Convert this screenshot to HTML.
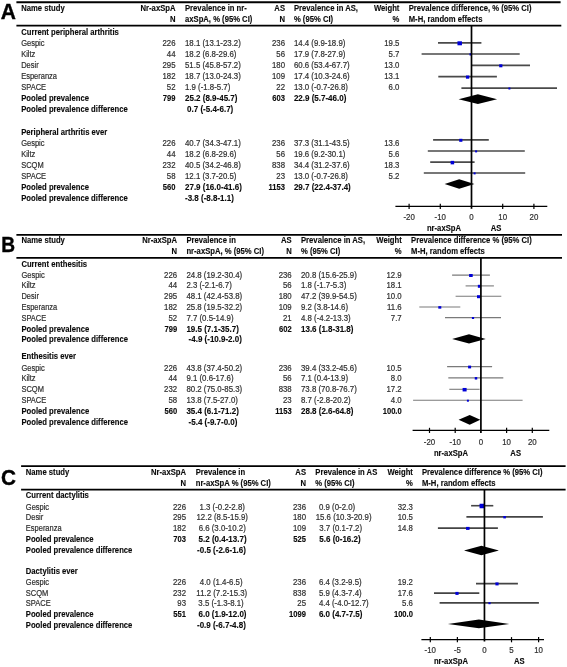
<!DOCTYPE html>
<html><head><meta charset="utf-8"><style>
html,body{margin:0;padding:0;background:#fff;}
svg{display:block;will-change:transform;}
text{font-family:"Liberation Sans",sans-serif;font-size:7.5px;}
.r{fill:#303030;stroke:#303030;stroke-width:0.2px;}
.b{fill:#0a0a0a;stroke:#0a0a0a;stroke-width:0.12px;font-weight:bold;font-size:7.6px;}
.L{fill:#000;stroke:#000;stroke-width:0.4px;font-weight:bold;font-size:21.8px;}
</style></head><body>
<svg width="567" height="667" viewBox="0 0 567 667">
<rect width="567" height="667" fill="#fff"/>
<text transform="translate(0.80,19.40) scale(0.930,1)" class="L" style="font-size:22.6px">A</text>
<line x1="16.40" y1="2.25" x2="560.60" y2="2.25" stroke="#000" stroke-width="1.8"/>
<line x1="16.40" y1="25.70" x2="561.30" y2="25.70" stroke="#000" stroke-width="1.8"/>
<text transform="translate(21.20,11.40) scale(0.9253,1)" class="b" style="font-size:8.3px">Name study</text>
<text transform="translate(175.50,11.40) scale(0.9253,1)" class="b" text-anchor="end" style="font-size:8.3px">Nr-axSpA</text>
<text transform="translate(175.50,22.00) scale(0.9253,1)" class="b" text-anchor="end" style="font-size:8.3px">N</text>
<text transform="translate(185.00,11.40) scale(0.9253,1)" class="b" style="font-size:8.3px">Prevalence in nr-</text>
<text transform="translate(185.00,22.00) scale(0.9253,1)" class="b" style="font-size:8.3px">axSpA, % (95% CI)</text>
<text transform="translate(285.00,11.40) scale(0.9253,1)" class="b" text-anchor="end" style="font-size:8.3px">AS</text>
<text transform="translate(285.00,22.00) scale(0.9253,1)" class="b" text-anchor="end" style="font-size:8.3px">N</text>
<text transform="translate(293.90,11.40) scale(0.9253,1)" class="b" style="font-size:8.3px">Prevalence in AS,</text>
<text transform="translate(293.90,22.00) scale(0.9253,1)" class="b" style="font-size:8.3px">% (95% CI)</text>
<text transform="translate(399.40,11.40) scale(0.9253,1)" class="b" text-anchor="end" style="font-size:8.3px">Weight</text>
<text transform="translate(399.40,22.00) scale(0.9253,1)" class="b" text-anchor="end" style="font-size:8.3px">%</text>
<text transform="translate(408.70,11.40) scale(0.9253,1)" class="b" style="font-size:8.3px">Prevalence difference, % (95% CI)</text>
<text transform="translate(408.70,22.00) scale(0.9253,1)" class="b" style="font-size:8.3px">M-H, random effects</text>
<text transform="translate(21.20,35.00) scale(0.9253,1)" class="b" style="font-size:8.3px">Current peripheral arthritis</text>
<text transform="translate(21.20,46.20) scale(0.9091,1)" class="r" style="font-size:8.25px">Gespic</text>
<text transform="translate(175.50,46.20) scale(0.9455,1)" class="r" text-anchor="end" style="font-size:8.25px">226</text>
<text transform="translate(185.00,46.20) scale(0.9515,1)" class="r" style="font-size:8.25px">18.1 (13.1-23.2)</text>
<text transform="translate(285.00,46.20) scale(0.9455,1)" class="r" text-anchor="end" style="font-size:8.25px">236</text>
<text transform="translate(293.90,46.20) scale(0.9515,1)" class="r" style="font-size:8.25px">14.4 (9.9-18.9)</text>
<text transform="translate(399.40,46.20) scale(0.9455,1)" class="r" text-anchor="end" style="font-size:8.25px">19.5</text>
<text transform="translate(21.20,56.90) scale(0.9091,1)" class="r" style="font-size:8.25px">Kiltz</text>
<text transform="translate(175.50,56.90) scale(0.9455,1)" class="r" text-anchor="end" style="font-size:8.25px">44</text>
<text transform="translate(185.00,56.90) scale(0.9515,1)" class="r" style="font-size:8.25px">18.2 (6.8-29.6)</text>
<text transform="translate(285.00,56.90) scale(0.9455,1)" class="r" text-anchor="end" style="font-size:8.25px">56</text>
<text transform="translate(293.90,56.90) scale(0.9515,1)" class="r" style="font-size:8.25px">17.9 (7.8-27.9)</text>
<text transform="translate(399.40,56.90) scale(0.9455,1)" class="r" text-anchor="end" style="font-size:8.25px">5.7</text>
<text transform="translate(21.20,68.30) scale(0.9091,1)" class="r" style="font-size:8.25px">Desir</text>
<text transform="translate(175.50,68.30) scale(0.9455,1)" class="r" text-anchor="end" style="font-size:8.25px">295</text>
<text transform="translate(185.00,68.30) scale(0.9515,1)" class="r" style="font-size:8.25px">51.5 (45.8-57.2)</text>
<text transform="translate(285.00,68.30) scale(0.9455,1)" class="r" text-anchor="end" style="font-size:8.25px">180</text>
<text transform="translate(293.90,68.30) scale(0.9515,1)" class="r" style="font-size:8.25px">60.6 (53.4-67.7)</text>
<text transform="translate(399.40,68.30) scale(0.9455,1)" class="r" text-anchor="end" style="font-size:8.25px">13.0</text>
<text transform="translate(21.20,78.70) scale(0.9091,1)" class="r" style="font-size:8.25px">Esperanza</text>
<text transform="translate(175.50,78.70) scale(0.9455,1)" class="r" text-anchor="end" style="font-size:8.25px">182</text>
<text transform="translate(185.00,78.70) scale(0.9515,1)" class="r" style="font-size:8.25px">18.7 (13.0-24.3)</text>
<text transform="translate(285.00,78.70) scale(0.9455,1)" class="r" text-anchor="end" style="font-size:8.25px">109</text>
<text transform="translate(293.90,78.70) scale(0.9515,1)" class="r" style="font-size:8.25px">17.4 (10.3-24.6)</text>
<text transform="translate(399.40,78.70) scale(0.9455,1)" class="r" text-anchor="end" style="font-size:8.25px">13.1</text>
<text transform="translate(21.20,89.70) scale(0.9091,1)" class="r" style="font-size:8.25px">SPACE</text>
<text transform="translate(175.50,89.70) scale(0.9455,1)" class="r" text-anchor="end" style="font-size:8.25px">52</text>
<text transform="translate(185.00,89.70) scale(0.9515,1)" class="r" style="font-size:8.25px">1.9 (-1.8-5.7)</text>
<text transform="translate(285.00,89.70) scale(0.9455,1)" class="r" text-anchor="end" style="font-size:8.25px">22</text>
<text transform="translate(293.90,89.70) scale(0.9515,1)" class="r" style="font-size:8.25px">13.0 (-0.7-26.8)</text>
<text transform="translate(399.40,89.70) scale(0.9455,1)" class="r" text-anchor="end" style="font-size:8.25px">6.0</text>
<text transform="translate(21.20,100.70) scale(0.9253,1)" class="b" style="font-size:8.3px">Pooled prevalence</text>
<text transform="translate(175.50,100.70) scale(0.9157,1)" class="b" text-anchor="end" style="font-size:8.3px">799</text>
<text transform="translate(185.00,100.70) scale(0.9639,1)" class="b" style="font-size:8.3px">25.2 (8.9-45.7)</text>
<text transform="translate(285.00,100.70) scale(0.9157,1)" class="b" text-anchor="end" style="font-size:8.3px">603</text>
<text transform="translate(293.90,100.70) scale(0.9639,1)" class="b" style="font-size:8.3px">22.9 (5.7-46.0)</text>
<text transform="translate(21.20,112.20) scale(0.9253,1)" class="b" style="font-size:8.3px">Pooled prevalence difference</text>
<text transform="translate(187.10,112.20) scale(0.9639,1)" class="b" style="font-size:8.3px">0.7 (-5.4-6.7)</text>
<text transform="translate(21.20,134.80) scale(0.9253,1)" class="b" style="font-size:8.3px">Peripheral arthritis ever</text>
<text transform="translate(21.20,146.00) scale(0.9091,1)" class="r" style="font-size:8.25px">Gespic</text>
<text transform="translate(175.50,146.00) scale(0.9455,1)" class="r" text-anchor="end" style="font-size:8.25px">226</text>
<text transform="translate(185.00,146.00) scale(0.9515,1)" class="r" style="font-size:8.25px">40.7 (34.3-47.1)</text>
<text transform="translate(285.00,146.00) scale(0.9455,1)" class="r" text-anchor="end" style="font-size:8.25px">236</text>
<text transform="translate(293.90,146.00) scale(0.9515,1)" class="r" style="font-size:8.25px">37.3 (31.1-43.5)</text>
<text transform="translate(399.40,146.00) scale(0.9455,1)" class="r" text-anchor="end" style="font-size:8.25px">13.6</text>
<text transform="translate(21.20,157.00) scale(0.9091,1)" class="r" style="font-size:8.25px">Kiltz</text>
<text transform="translate(175.50,157.00) scale(0.9455,1)" class="r" text-anchor="end" style="font-size:8.25px">44</text>
<text transform="translate(185.00,157.00) scale(0.9515,1)" class="r" style="font-size:8.25px">18.2 (6.8-29.6)</text>
<text transform="translate(285.00,157.00) scale(0.9455,1)" class="r" text-anchor="end" style="font-size:8.25px">56</text>
<text transform="translate(293.90,157.00) scale(0.9515,1)" class="r" style="font-size:8.25px">19.6 (9.2-30.1)</text>
<text transform="translate(399.40,157.00) scale(0.9455,1)" class="r" text-anchor="end" style="font-size:8.25px">5.6</text>
<text transform="translate(21.20,168.00) scale(0.9091,1)" class="r" style="font-size:8.25px">SCQM</text>
<text transform="translate(175.50,168.00) scale(0.9455,1)" class="r" text-anchor="end" style="font-size:8.25px">232</text>
<text transform="translate(185.00,168.00) scale(0.9515,1)" class="r" style="font-size:8.25px">40.5 (34.2-46.8)</text>
<text transform="translate(285.00,168.00) scale(0.9455,1)" class="r" text-anchor="end" style="font-size:8.25px">838</text>
<text transform="translate(293.90,168.00) scale(0.9515,1)" class="r" style="font-size:8.25px">34.4 (31.2-37.6)</text>
<text transform="translate(399.40,168.00) scale(0.9455,1)" class="r" text-anchor="end" style="font-size:8.25px">18.3</text>
<text transform="translate(21.20,178.90) scale(0.9091,1)" class="r" style="font-size:8.25px">SPACE</text>
<text transform="translate(175.50,178.90) scale(0.9455,1)" class="r" text-anchor="end" style="font-size:8.25px">58</text>
<text transform="translate(185.00,178.90) scale(0.9515,1)" class="r" style="font-size:8.25px">12.1 (3.7-20.5)</text>
<text transform="translate(285.00,178.90) scale(0.9455,1)" class="r" text-anchor="end" style="font-size:8.25px">23</text>
<text transform="translate(293.90,178.90) scale(0.9515,1)" class="r" style="font-size:8.25px">13.0 (-0.7-26.8)</text>
<text transform="translate(399.40,178.90) scale(0.9455,1)" class="r" text-anchor="end" style="font-size:8.25px">5.2</text>
<text transform="translate(21.20,189.70) scale(0.9253,1)" class="b" style="font-size:8.3px">Pooled prevalence</text>
<text transform="translate(175.50,189.70) scale(0.9157,1)" class="b" text-anchor="end" style="font-size:8.3px">560</text>
<text transform="translate(185.00,189.70) scale(0.9639,1)" class="b" style="font-size:8.3px">27.9 (16.0-41.6)</text>
<text transform="translate(285.00,189.70) scale(0.9157,1)" class="b" text-anchor="end" style="font-size:8.3px">1153</text>
<text transform="translate(293.90,189.70) scale(0.9639,1)" class="b" style="font-size:8.3px">29.7 (22.4-37.4)</text>
<text transform="translate(21.20,200.90) scale(0.9253,1)" class="b" style="font-size:8.3px">Pooled prevalence difference</text>
<text transform="translate(185.00,200.90) scale(0.9639,1)" class="b" style="font-size:8.3px">-3.8 (-8.8-1.1)</text>
<line x1="438.00" y1="42.90" x2="481.40" y2="42.90" stroke="#4a4a4a" stroke-width="1.7"/>
<line x1="421.60" y1="54.00" x2="519.70" y2="54.00" stroke="#4a4a4a" stroke-width="1.7"/>
<line x1="471.40" y1="65.40" x2="530.00" y2="65.40" stroke="#4a4a4a" stroke-width="1.7"/>
<line x1="438.30" y1="76.70" x2="496.90" y2="76.70" stroke="#4a4a4a" stroke-width="1.7"/>
<line x1="461.40" y1="88.10" x2="557.00" y2="88.10" stroke="#4a4a4a" stroke-width="1.7"/>
<line x1="433.10" y1="139.90" x2="488.80" y2="139.90" stroke="#4a4a4a" stroke-width="1.7"/>
<line x1="427.80" y1="151.00" x2="524.80" y2="151.00" stroke="#4a4a4a" stroke-width="1.7"/>
<line x1="430.20" y1="162.20" x2="474.60" y2="162.20" stroke="#4a4a4a" stroke-width="1.7"/>
<line x1="423.80" y1="173.00" x2="525.20" y2="173.00" stroke="#4a4a4a" stroke-width="1.7"/>
<rect x="457.45" y="41.30" width="4.50" height="4.00" fill="#0000d8"/>
<rect x="469.50" y="53.30" width="2.20" height="2.20" fill="#0000d8"/>
<rect x="499.20" y="64.30" width="3.20" height="3.00" fill="#0000d8"/>
<rect x="465.95" y="75.50" width="3.30" height="3.20" fill="#0000d8"/>
<rect x="508.40" y="87.50" width="2.00" height="2.00" fill="#0000d8"/>
<rect x="459.20" y="138.80" width="3.20" height="3.00" fill="#0000d8"/>
<rect x="475.10" y="150.40" width="2.00" height="2.00" fill="#0000d8"/>
<rect x="450.65" y="160.85" width="3.50" height="3.50" fill="#0000d8"/>
<rect x="473.60" y="172.40" width="2.00" height="2.00" fill="#0000d8"/>
<polygon points="458.60,99.30 477.90,94.30 497.10,99.30 477.90,104.00" fill="#000"/>
<polygon points="444.60,184.00 459.20,179.20 474.40,184.00 459.20,188.70" fill="#000"/>
<line x1="471.50" y1="25.70" x2="471.50" y2="208.80" stroke="#000" stroke-width="1.7"/>
<line x1="395.40" y1="206.40" x2="547.30" y2="206.40" stroke="#000" stroke-width="1.3"/>
<line x1="409.10" y1="203.80" x2="409.10" y2="209.00" stroke="#000" stroke-width="1.2"/>
<text transform="translate(409.10,220.00) scale(0.9576,1)" class="r" text-anchor="middle" style="font-size:8.25px">-20</text>
<line x1="440.30" y1="203.80" x2="440.30" y2="209.00" stroke="#000" stroke-width="1.2"/>
<text transform="translate(440.30,220.00) scale(0.9576,1)" class="r" text-anchor="middle" style="font-size:8.25px">-10</text>
<text transform="translate(471.50,220.00) scale(0.9576,1)" class="r" text-anchor="middle" style="font-size:8.25px">0</text>
<line x1="502.70" y1="203.80" x2="502.70" y2="209.00" stroke="#000" stroke-width="1.2"/>
<text transform="translate(502.70,220.00) scale(0.9576,1)" class="r" text-anchor="middle" style="font-size:8.25px">10</text>
<line x1="533.90" y1="203.80" x2="533.90" y2="209.00" stroke="#000" stroke-width="1.2"/>
<text transform="translate(533.90,220.00) scale(0.9576,1)" class="r" text-anchor="middle" style="font-size:8.25px">20</text>
<text transform="translate(426.90,230.70) scale(0.9253,1)" class="b" style="font-size:8.3px">nr-axSpA</text>
<text transform="translate(496.00,230.70) scale(0.9253,1)" class="b" text-anchor="middle" style="font-size:8.3px">AS</text>
<text transform="translate(1.20,252.10) scale(0.870,1)" class="L" style="font-size:22.0px">B</text>
<line x1="16.40" y1="234.80" x2="562.00" y2="234.80" stroke="#000" stroke-width="1.8"/>
<line x1="16.40" y1="257.80" x2="562.00" y2="257.80" stroke="#000" stroke-width="1.8"/>
<text transform="translate(21.40,243.40) scale(0.9253,1)" class="b" style="font-size:8.3px">Name study</text>
<text transform="translate(177.10,243.40) scale(0.9253,1)" class="b" text-anchor="end" style="font-size:8.3px">Nr-axSpA</text>
<text transform="translate(177.10,254.40) scale(0.9253,1)" class="b" text-anchor="end" style="font-size:8.3px">N</text>
<text transform="translate(186.40,243.40) scale(0.9253,1)" class="b" style="font-size:8.3px">Prevalence in</text>
<text transform="translate(186.40,254.40) scale(0.9253,1)" class="b" style="font-size:8.3px">nr-axSpA, % (95% CI)</text>
<text transform="translate(291.70,243.40) scale(0.9253,1)" class="b" text-anchor="end" style="font-size:8.3px">AS</text>
<text transform="translate(291.70,254.40) scale(0.9253,1)" class="b" text-anchor="end" style="font-size:8.3px">N</text>
<text transform="translate(301.00,243.40) scale(0.9253,1)" class="b" style="font-size:8.3px">Prevalence in AS,</text>
<text transform="translate(301.00,254.40) scale(0.9253,1)" class="b" style="font-size:8.3px">% (95% CI)</text>
<text transform="translate(401.70,243.40) scale(0.9253,1)" class="b" text-anchor="end" style="font-size:8.3px">Weight</text>
<text transform="translate(401.70,254.40) scale(0.9253,1)" class="b" text-anchor="end" style="font-size:8.3px">%</text>
<text transform="translate(411.10,243.40) scale(0.9253,1)" class="b" style="font-size:8.3px">Prevalence difference % (95% CI)</text>
<text transform="translate(411.10,254.40) scale(0.9253,1)" class="b" style="font-size:8.3px">M-H, random effects</text>
<text transform="translate(21.40,266.90) scale(0.9253,1)" class="b" style="font-size:8.3px">Current enthesitis</text>
<text transform="translate(21.40,277.80) scale(0.9091,1)" class="r" style="font-size:8.25px">Gespic</text>
<text transform="translate(177.10,277.80) scale(0.9455,1)" class="r" text-anchor="end" style="font-size:8.25px">226</text>
<text transform="translate(186.40,277.80) scale(0.9515,1)" class="r" style="font-size:8.25px">24.8 (19.2-30.4)</text>
<text transform="translate(291.70,277.80) scale(0.9455,1)" class="r" text-anchor="end" style="font-size:8.25px">236</text>
<text transform="translate(301.00,277.80) scale(0.9515,1)" class="r" style="font-size:8.25px">20.8 (15.6-25.9)</text>
<text transform="translate(401.70,277.80) scale(0.9455,1)" class="r" text-anchor="end" style="font-size:8.25px">12.9</text>
<text transform="translate(21.40,288.30) scale(0.9091,1)" class="r" style="font-size:8.25px">Kiltz</text>
<text transform="translate(177.10,288.30) scale(0.9455,1)" class="r" text-anchor="end" style="font-size:8.25px">44</text>
<text transform="translate(186.40,288.30) scale(0.9515,1)" class="r" style="font-size:8.25px">2.3 (-2.1-6.7)</text>
<text transform="translate(291.70,288.30) scale(0.9455,1)" class="r" text-anchor="end" style="font-size:8.25px">56</text>
<text transform="translate(301.00,288.30) scale(0.9515,1)" class="r" style="font-size:8.25px">1.8 (-1.7-5.3)</text>
<text transform="translate(401.70,288.30) scale(0.9455,1)" class="r" text-anchor="end" style="font-size:8.25px">18.1</text>
<text transform="translate(21.40,299.10) scale(0.9091,1)" class="r" style="font-size:8.25px">Desir</text>
<text transform="translate(177.10,299.10) scale(0.9455,1)" class="r" text-anchor="end" style="font-size:8.25px">295</text>
<text transform="translate(186.40,299.10) scale(0.9515,1)" class="r" style="font-size:8.25px">48.1 (42.4-53.8)</text>
<text transform="translate(291.70,299.10) scale(0.9455,1)" class="r" text-anchor="end" style="font-size:8.25px">180</text>
<text transform="translate(301.00,299.10) scale(0.9515,1)" class="r" style="font-size:8.25px">47.2 (39.9-54.5)</text>
<text transform="translate(401.70,299.10) scale(0.9455,1)" class="r" text-anchor="end" style="font-size:8.25px">10.0</text>
<text transform="translate(21.40,310.10) scale(0.9091,1)" class="r" style="font-size:8.25px">Esperanza</text>
<text transform="translate(177.10,310.10) scale(0.9455,1)" class="r" text-anchor="end" style="font-size:8.25px">182</text>
<text transform="translate(186.40,310.10) scale(0.9515,1)" class="r" style="font-size:8.25px">25.8 (19.5-32.2)</text>
<text transform="translate(291.70,310.10) scale(0.9455,1)" class="r" text-anchor="end" style="font-size:8.25px">109</text>
<text transform="translate(301.00,310.10) scale(0.9515,1)" class="r" style="font-size:8.25px">9.2 (3.8-14.6)</text>
<text transform="translate(401.70,310.10) scale(0.9455,1)" class="r" text-anchor="end" style="font-size:8.25px">11.6</text>
<text transform="translate(21.40,320.80) scale(0.9091,1)" class="r" style="font-size:8.25px">SPACE</text>
<text transform="translate(177.10,320.80) scale(0.9455,1)" class="r" text-anchor="end" style="font-size:8.25px">52</text>
<text transform="translate(186.40,320.80) scale(0.9515,1)" class="r" style="font-size:8.25px">7.7 (0.5-14.9)</text>
<text transform="translate(291.70,320.80) scale(0.9455,1)" class="r" text-anchor="end" style="font-size:8.25px">21</text>
<text transform="translate(301.00,320.80) scale(0.9515,1)" class="r" style="font-size:8.25px">4.8 (-4.2-13.3)</text>
<text transform="translate(401.70,320.80) scale(0.9455,1)" class="r" text-anchor="end" style="font-size:8.25px">7.7</text>
<text transform="translate(21.40,331.70) scale(0.9253,1)" class="b" style="font-size:8.3px">Pooled prevalence</text>
<text transform="translate(177.10,331.70) scale(0.9157,1)" class="b" text-anchor="end" style="font-size:8.3px">799</text>
<text transform="translate(186.40,331.70) scale(0.9639,1)" class="b" style="font-size:8.3px">19.5 (7.1-35.7)</text>
<text transform="translate(291.70,331.70) scale(0.9157,1)" class="b" text-anchor="end" style="font-size:8.3px">602</text>
<text transform="translate(301.00,331.70) scale(0.9639,1)" class="b" style="font-size:8.3px">13.6 (1.8-31.8)</text>
<text transform="translate(21.40,342.40) scale(0.9253,1)" class="b" style="font-size:8.3px">Pooled prevalence difference</text>
<text transform="translate(188.60,342.40) scale(0.9639,1)" class="b" style="font-size:8.3px">-4.9 (-10.9-2.0)</text>
<text transform="translate(21.40,359.30) scale(0.9253,1)" class="b" style="font-size:8.3px">Enthesitis ever</text>
<text transform="translate(21.40,370.80) scale(0.9091,1)" class="r" style="font-size:8.25px">Gespic</text>
<text transform="translate(177.10,370.80) scale(0.9455,1)" class="r" text-anchor="end" style="font-size:8.25px">226</text>
<text transform="translate(186.40,370.80) scale(0.9515,1)" class="r" style="font-size:8.25px">43.8 (37.4-50.2)</text>
<text transform="translate(291.70,370.80) scale(0.9455,1)" class="r" text-anchor="end" style="font-size:8.25px">236</text>
<text transform="translate(301.00,370.80) scale(0.9515,1)" class="r" style="font-size:8.25px">39.4 (33.2-45.6)</text>
<text transform="translate(401.70,370.80) scale(0.9455,1)" class="r" text-anchor="end" style="font-size:8.25px">10.5</text>
<text transform="translate(21.40,381.00) scale(0.9091,1)" class="r" style="font-size:8.25px">Kiltz</text>
<text transform="translate(177.10,381.00) scale(0.9455,1)" class="r" text-anchor="end" style="font-size:8.25px">44</text>
<text transform="translate(186.40,381.00) scale(0.9515,1)" class="r" style="font-size:8.25px">9.1 (0.6-17.6)</text>
<text transform="translate(291.70,381.00) scale(0.9455,1)" class="r" text-anchor="end" style="font-size:8.25px">56</text>
<text transform="translate(301.00,381.00) scale(0.9515,1)" class="r" style="font-size:8.25px">7.1 (0.4-13.9)</text>
<text transform="translate(401.70,381.00) scale(0.9455,1)" class="r" text-anchor="end" style="font-size:8.25px">8.0</text>
<text transform="translate(21.40,391.90) scale(0.9091,1)" class="r" style="font-size:8.25px">SCQM</text>
<text transform="translate(177.10,391.90) scale(0.9455,1)" class="r" text-anchor="end" style="font-size:8.25px">232</text>
<text transform="translate(186.40,391.90) scale(0.9515,1)" class="r" style="font-size:8.25px">80.2 (75.0-85.3)</text>
<text transform="translate(291.70,391.90) scale(0.9455,1)" class="r" text-anchor="end" style="font-size:8.25px">838</text>
<text transform="translate(301.00,391.90) scale(0.9515,1)" class="r" style="font-size:8.25px">73.8 (70.8-76.7)</text>
<text transform="translate(401.70,391.90) scale(0.9455,1)" class="r" text-anchor="end" style="font-size:8.25px">17.2</text>
<text transform="translate(21.40,402.50) scale(0.9091,1)" class="r" style="font-size:8.25px">SPACE</text>
<text transform="translate(177.10,402.50) scale(0.9455,1)" class="r" text-anchor="end" style="font-size:8.25px">58</text>
<text transform="translate(186.40,402.50) scale(0.9515,1)" class="r" style="font-size:8.25px">13.8 (7.5-27.0)</text>
<text transform="translate(291.70,402.50) scale(0.9455,1)" class="r" text-anchor="end" style="font-size:8.25px">23</text>
<text transform="translate(301.00,402.50) scale(0.9515,1)" class="r" style="font-size:8.25px">8.7 (-2.8-20.2)</text>
<text transform="translate(401.70,402.50) scale(0.9455,1)" class="r" text-anchor="end" style="font-size:8.25px">4.0</text>
<text transform="translate(21.40,413.60) scale(0.9253,1)" class="b" style="font-size:8.3px">Pooled prevalence</text>
<text transform="translate(177.10,413.60) scale(0.9157,1)" class="b" text-anchor="end" style="font-size:8.3px">560</text>
<text transform="translate(186.40,413.60) scale(0.9639,1)" class="b" style="font-size:8.3px">35.4 (6.1-71.2)</text>
<text transform="translate(291.70,413.60) scale(0.9157,1)" class="b" text-anchor="end" style="font-size:8.3px">1153</text>
<text transform="translate(301.00,413.60) scale(0.9639,1)" class="b" style="font-size:8.3px">28.8 (2.6-64.8)</text>
<text transform="translate(401.70,413.60) scale(0.9157,1)" class="b" text-anchor="end" style="font-size:8.3px">100.0</text>
<text transform="translate(21.40,424.80) scale(0.9253,1)" class="b" style="font-size:8.3px">Pooled prevalence difference</text>
<text transform="translate(188.60,424.80) scale(0.9639,1)" class="b" style="font-size:8.3px">-5.4 (-9.7-0.0)</text>
<line x1="452.10" y1="275.10" x2="489.90" y2="275.10" stroke="#7a7a7a" stroke-width="1.1"/>
<line x1="465.60" y1="285.90" x2="493.90" y2="285.90" stroke="#7a7a7a" stroke-width="1.1"/>
<line x1="455.60" y1="296.30" x2="501.30" y2="296.30" stroke="#7a7a7a" stroke-width="1.1"/>
<line x1="419.30" y1="307.00" x2="460.30" y2="307.00" stroke="#7a7a7a" stroke-width="1.1"/>
<line x1="445.00" y1="317.60" x2="501.00" y2="317.60" stroke="#7a7a7a" stroke-width="1.1"/>
<line x1="447.10" y1="366.60" x2="492.10" y2="366.60" stroke="#7a7a7a" stroke-width="1.1"/>
<line x1="448.30" y1="377.90" x2="503.30" y2="377.90" stroke="#7a7a7a" stroke-width="1.1"/>
<line x1="449.30" y1="389.30" x2="479.60" y2="389.30" stroke="#7a7a7a" stroke-width="1.1"/>
<line x1="413.10" y1="400.30" x2="522.60" y2="400.30" stroke="#7a7a7a" stroke-width="1.1"/>
<rect x="469.10" y="274.00" width="3.60" height="3.00" fill="#0000d8"/>
<rect x="477.85" y="284.80" width="2.50" height="3.00" fill="#0000d8"/>
<rect x="477.00" y="295.20" width="3.00" height="3.00" fill="#0000d8"/>
<rect x="438.30" y="306.15" width="3.00" height="2.50" fill="#0000d8"/>
<rect x="471.90" y="317.00" width="2.20" height="2.00" fill="#0000d8"/>
<rect x="468.10" y="365.60" width="3.00" height="2.80" fill="#0000d8"/>
<rect x="474.75" y="377.05" width="2.50" height="2.50" fill="#0000d8"/>
<rect x="462.60" y="387.95" width="4.00" height="3.50" fill="#0000d8"/>
<rect x="466.90" y="399.70" width="2.00" height="2.00" fill="#0000d8"/>
<polygon points="452.10,338.90 469.00,334.20 485.70,338.90 469.00,343.60" fill="#000"/>
<polygon points="458.60,419.80 469.70,415.00 480.30,419.80 469.70,424.70" fill="#000"/>
<line x1="480.90" y1="257.80" x2="480.90" y2="433.00" stroke="#000" stroke-width="1.7"/>
<line x1="412.60" y1="430.40" x2="549.30" y2="430.40" stroke="#000" stroke-width="1.3"/>
<line x1="429.50" y1="427.80" x2="429.50" y2="433.00" stroke="#000" stroke-width="1.2"/>
<text transform="translate(429.50,445.40) scale(0.9576,1)" class="r" text-anchor="middle" style="font-size:8.25px">-20</text>
<line x1="455.20" y1="427.80" x2="455.20" y2="433.00" stroke="#000" stroke-width="1.2"/>
<text transform="translate(455.20,445.40) scale(0.9576,1)" class="r" text-anchor="middle" style="font-size:8.25px">-10</text>
<text transform="translate(480.90,445.40) scale(0.9576,1)" class="r" text-anchor="middle" style="font-size:8.25px">0</text>
<line x1="506.60" y1="427.80" x2="506.60" y2="433.00" stroke="#000" stroke-width="1.2"/>
<text transform="translate(506.60,445.40) scale(0.9576,1)" class="r" text-anchor="middle" style="font-size:8.25px">10</text>
<line x1="532.30" y1="427.80" x2="532.30" y2="433.00" stroke="#000" stroke-width="1.2"/>
<text transform="translate(532.30,445.40) scale(0.9576,1)" class="r" text-anchor="middle" style="font-size:8.25px">20</text>
<text transform="translate(433.90,456.40) scale(0.9253,1)" class="b" style="font-size:8.3px">nr-axSpA</text>
<text transform="translate(515.70,456.40) scale(0.9253,1)" class="b" text-anchor="middle" style="font-size:8.3px">AS</text>
<text transform="translate(0.90,484.90) scale(0.920,1)" class="L" style="font-size:22.6px">C</text>
<line x1="21.10" y1="466.10" x2="565.60" y2="466.10" stroke="#000" stroke-width="1.8"/>
<line x1="21.10" y1="489.60" x2="565.60" y2="489.60" stroke="#000" stroke-width="1.8"/>
<text transform="translate(25.80,475.00) scale(0.9253,1)" class="b" style="font-size:8.3px">Name study</text>
<text transform="translate(186.00,475.00) scale(0.9253,1)" class="b" text-anchor="end" style="font-size:8.3px">Nr-axSpA</text>
<text transform="translate(186.00,486.10) scale(0.9253,1)" class="b" text-anchor="end" style="font-size:8.3px">N</text>
<text transform="translate(195.70,475.00) scale(0.9253,1)" class="b" style="font-size:8.3px">Prevalence in</text>
<text transform="translate(195.70,486.10) scale(0.9253,1)" class="b" style="font-size:8.3px">nr-axSpA % (95% CI)</text>
<text transform="translate(306.00,475.00) scale(0.9253,1)" class="b" text-anchor="end" style="font-size:8.3px">AS</text>
<text transform="translate(306.00,486.10) scale(0.9253,1)" class="b" text-anchor="end" style="font-size:8.3px">N</text>
<text transform="translate(315.30,475.00) scale(0.9253,1)" class="b" style="font-size:8.3px">Prevalence in AS</text>
<text transform="translate(315.30,486.10) scale(0.9253,1)" class="b" style="font-size:8.3px">% (95% CI)</text>
<text transform="translate(412.90,475.00) scale(0.9253,1)" class="b" text-anchor="end" style="font-size:8.3px">Weight</text>
<text transform="translate(412.90,486.10) scale(0.9253,1)" class="b" text-anchor="end" style="font-size:8.3px">%</text>
<text transform="translate(421.90,475.00) scale(0.9253,1)" class="b" style="font-size:8.3px">Prevalence difference % (95% CI)</text>
<text transform="translate(421.90,486.10) scale(0.9253,1)" class="b" style="font-size:8.3px">M-H, random effects</text>
<text transform="translate(25.80,498.10) scale(0.9253,1)" class="b" style="font-size:8.3px">Current dactylitis</text>
<text transform="translate(25.80,509.60) scale(0.9091,1)" class="r" style="font-size:8.25px">Gespic</text>
<text transform="translate(186.00,509.60) scale(0.9455,1)" class="r" text-anchor="end" style="font-size:8.25px">226</text>
<text transform="translate(222.20,509.60) scale(0.9515,1)" class="r" text-anchor="middle" style="font-size:8.25px">1.3 (-0.2-2.8)</text>
<text transform="translate(306.00,509.60) scale(0.9455,1)" class="r" text-anchor="end" style="font-size:8.25px">236</text>
<text transform="translate(319.00,509.60) scale(0.9515,1)" class="r" style="font-size:8.25px">0.9 (0-2.0)</text>
<text transform="translate(412.90,509.60) scale(0.9455,1)" class="r" text-anchor="end" style="font-size:8.25px">32.3</text>
<text transform="translate(25.80,519.70) scale(0.9091,1)" class="r" style="font-size:8.25px">Desir</text>
<text transform="translate(186.00,519.70) scale(0.9455,1)" class="r" text-anchor="end" style="font-size:8.25px">295</text>
<text transform="translate(222.20,519.70) scale(0.9515,1)" class="r" text-anchor="middle" style="font-size:8.25px">12.2 (8.5-15.9)</text>
<text transform="translate(306.00,519.70) scale(0.9455,1)" class="r" text-anchor="end" style="font-size:8.25px">180</text>
<text transform="translate(315.70,519.70) scale(0.9515,1)" class="r" style="font-size:8.25px">15.6 (10.3-20.9)</text>
<text transform="translate(412.90,519.70) scale(0.9455,1)" class="r" text-anchor="end" style="font-size:8.25px">10.5</text>
<text transform="translate(25.80,530.70) scale(0.9091,1)" class="r" style="font-size:8.25px">Esperanza</text>
<text transform="translate(186.00,530.70) scale(0.9455,1)" class="r" text-anchor="end" style="font-size:8.25px">182</text>
<text transform="translate(222.20,530.70) scale(0.9515,1)" class="r" text-anchor="middle" style="font-size:8.25px">6.6 (3.0-10.2)</text>
<text transform="translate(306.00,530.70) scale(0.9455,1)" class="r" text-anchor="end" style="font-size:8.25px">109</text>
<text transform="translate(319.30,530.70) scale(0.9515,1)" class="r" style="font-size:8.25px">3.7 (0.1-7.2)</text>
<text transform="translate(412.90,530.70) scale(0.9455,1)" class="r" text-anchor="end" style="font-size:8.25px">14.8</text>
<text transform="translate(25.80,541.80) scale(0.9253,1)" class="b" style="font-size:8.3px">Pooled prevalence</text>
<text transform="translate(186.00,541.80) scale(0.9157,1)" class="b" text-anchor="end" style="font-size:8.3px">703</text>
<text transform="translate(222.60,541.80) scale(0.9639,1)" class="b" text-anchor="middle" style="font-size:8.3px">5.2 (0.4-13.7)</text>
<text transform="translate(306.00,541.80) scale(0.9157,1)" class="b" text-anchor="end" style="font-size:8.3px">525</text>
<text transform="translate(319.30,541.80) scale(0.9639,1)" class="b" style="font-size:8.3px">5.6 (0-16.2)</text>
<text transform="translate(25.80,552.60) scale(0.9253,1)" class="b" style="font-size:8.3px">Pooled prevalence difference</text>
<text transform="translate(221.50,552.60) scale(0.9639,1)" class="b" text-anchor="middle" style="font-size:8.3px">-0.5 (-2.6-1.6)</text>
<text transform="translate(25.80,574.00) scale(0.9253,1)" class="b" style="font-size:8.3px">Dactylitis ever</text>
<text transform="translate(25.80,585.00) scale(0.9091,1)" class="r" style="font-size:8.25px">Gespic</text>
<text transform="translate(186.00,585.00) scale(0.9455,1)" class="r" text-anchor="end" style="font-size:8.25px">226</text>
<text transform="translate(221.20,585.00) scale(0.9515,1)" class="r" text-anchor="middle" style="font-size:8.25px">4.0 (1.4-6.5)</text>
<text transform="translate(306.00,585.00) scale(0.9455,1)" class="r" text-anchor="end" style="font-size:8.25px">236</text>
<text transform="translate(318.90,585.00) scale(0.9515,1)" class="r" style="font-size:8.25px">6.4 (3.2-9.5)</text>
<text transform="translate(412.90,585.00) scale(0.9455,1)" class="r" text-anchor="end" style="font-size:8.25px">19.2</text>
<text transform="translate(25.80,595.50) scale(0.9091,1)" class="r" style="font-size:8.25px">SCQM</text>
<text transform="translate(186.00,595.50) scale(0.9455,1)" class="r" text-anchor="end" style="font-size:8.25px">232</text>
<text transform="translate(221.80,595.50) scale(0.9515,1)" class="r" text-anchor="middle" style="font-size:8.25px">11.2 (7.2-15.3)</text>
<text transform="translate(306.00,595.50) scale(0.9455,1)" class="r" text-anchor="end" style="font-size:8.25px">838</text>
<text transform="translate(318.90,595.50) scale(0.9515,1)" class="r" style="font-size:8.25px">5.9 (4.3-7.4)</text>
<text transform="translate(412.90,595.50) scale(0.9455,1)" class="r" text-anchor="end" style="font-size:8.25px">17.6</text>
<text transform="translate(25.80,606.20) scale(0.9091,1)" class="r" style="font-size:8.25px">SPACE</text>
<text transform="translate(186.00,606.20) scale(0.9455,1)" class="r" text-anchor="end" style="font-size:8.25px">93</text>
<text transform="translate(221.00,606.20) scale(0.9515,1)" class="r" text-anchor="middle" style="font-size:8.25px">3.5 (-1.3-8.1)</text>
<text transform="translate(306.00,606.20) scale(0.9455,1)" class="r" text-anchor="end" style="font-size:8.25px">25</text>
<text transform="translate(318.90,606.20) scale(0.9515,1)" class="r" style="font-size:8.25px">4.4 (-4.0-12.7)</text>
<text transform="translate(412.90,606.20) scale(0.9455,1)" class="r" text-anchor="end" style="font-size:8.25px">5.6</text>
<text transform="translate(25.80,616.60) scale(0.9253,1)" class="b" style="font-size:8.3px">Pooled prevalence</text>
<text transform="translate(186.00,616.60) scale(0.9157,1)" class="b" text-anchor="end" style="font-size:8.3px">551</text>
<text transform="translate(222.50,616.60) scale(0.9639,1)" class="b" text-anchor="middle" style="font-size:8.3px">6.0 (1.9-12.0)</text>
<text transform="translate(306.00,616.60) scale(0.9157,1)" class="b" text-anchor="end" style="font-size:8.3px">1099</text>
<text transform="translate(318.90,616.60) scale(0.9639,1)" class="b" style="font-size:8.3px">6.0 (4.7-7.5)</text>
<text transform="translate(412.90,616.60) scale(0.9157,1)" class="b" text-anchor="end" style="font-size:8.3px">100.0</text>
<text transform="translate(25.80,627.80) scale(0.9253,1)" class="b" style="font-size:8.3px">Pooled prevalence difference</text>
<text transform="translate(221.40,627.80) scale(0.9639,1)" class="b" text-anchor="middle" style="font-size:8.3px">-0.9 (-6.7-4.8)</text>
<line x1="471.10" y1="505.70" x2="493.30" y2="505.70" stroke="#444" stroke-width="1.6"/>
<line x1="466.40" y1="516.90" x2="542.90" y2="516.90" stroke="#444" stroke-width="1.6"/>
<line x1="437.90" y1="528.10" x2="497.90" y2="528.10" stroke="#444" stroke-width="1.6"/>
<line x1="476.00" y1="583.60" x2="517.90" y2="583.60" stroke="#444" stroke-width="1.6"/>
<line x1="434.00" y1="593.10" x2="479.30" y2="593.10" stroke="#444" stroke-width="1.6"/>
<line x1="439.60" y1="602.90" x2="538.90" y2="602.90" stroke="#444" stroke-width="1.6"/>
<rect x="479.55" y="503.75" width="4.50" height="4.50" fill="#0000d8"/>
<rect x="503.30" y="516.00" width="2.60" height="2.40" fill="#0000d8"/>
<rect x="466.05" y="526.90" width="3.50" height="3.00" fill="#0000d8"/>
<rect x="495.40" y="582.40" width="3.20" height="3.00" fill="#0000d8"/>
<rect x="455.40" y="591.90" width="3.20" height="3.00" fill="#0000d8"/>
<rect x="488.40" y="602.20" width="2.20" height="2.00" fill="#0000d8"/>
<polygon points="464.00,550.40 481.40,545.70 498.90,550.40 481.40,555.30" fill="#000"/>
<polygon points="447.90,623.90 478.90,619.50 509.30,623.90 478.90,628.20" fill="#000"/>
<line x1="484.45" y1="489.60" x2="484.45" y2="641.50" stroke="#000" stroke-width="1.7"/>
<line x1="421.40" y1="639.70" x2="544.00" y2="639.70" stroke="#000" stroke-width="1.3"/>
<line x1="430.30" y1="637.10" x2="430.30" y2="642.30" stroke="#000" stroke-width="1.2"/>
<text transform="translate(430.30,653.10) scale(0.9576,1)" class="r" text-anchor="middle" style="font-size:8.25px">-10</text>
<line x1="457.38" y1="637.10" x2="457.38" y2="642.30" stroke="#000" stroke-width="1.2"/>
<text transform="translate(457.38,653.10) scale(0.9576,1)" class="r" text-anchor="middle" style="font-size:8.25px">-5</text>
<text transform="translate(484.45,653.10) scale(0.9576,1)" class="r" text-anchor="middle" style="font-size:8.25px">0</text>
<line x1="511.52" y1="637.10" x2="511.52" y2="642.30" stroke="#000" stroke-width="1.2"/>
<text transform="translate(511.52,653.10) scale(0.9576,1)" class="r" text-anchor="middle" style="font-size:8.25px">5</text>
<line x1="538.60" y1="637.10" x2="538.60" y2="642.30" stroke="#000" stroke-width="1.2"/>
<text transform="translate(538.60,653.10) scale(0.9576,1)" class="r" text-anchor="middle" style="font-size:8.25px">10</text>
<text transform="translate(433.90,663.60) scale(0.9253,1)" class="b" style="font-size:8.3px">nr-axSpA</text>
<text transform="translate(519.30,663.60) scale(0.9253,1)" class="b" text-anchor="middle" style="font-size:8.3px">AS</text>
</svg>
</body></html>
